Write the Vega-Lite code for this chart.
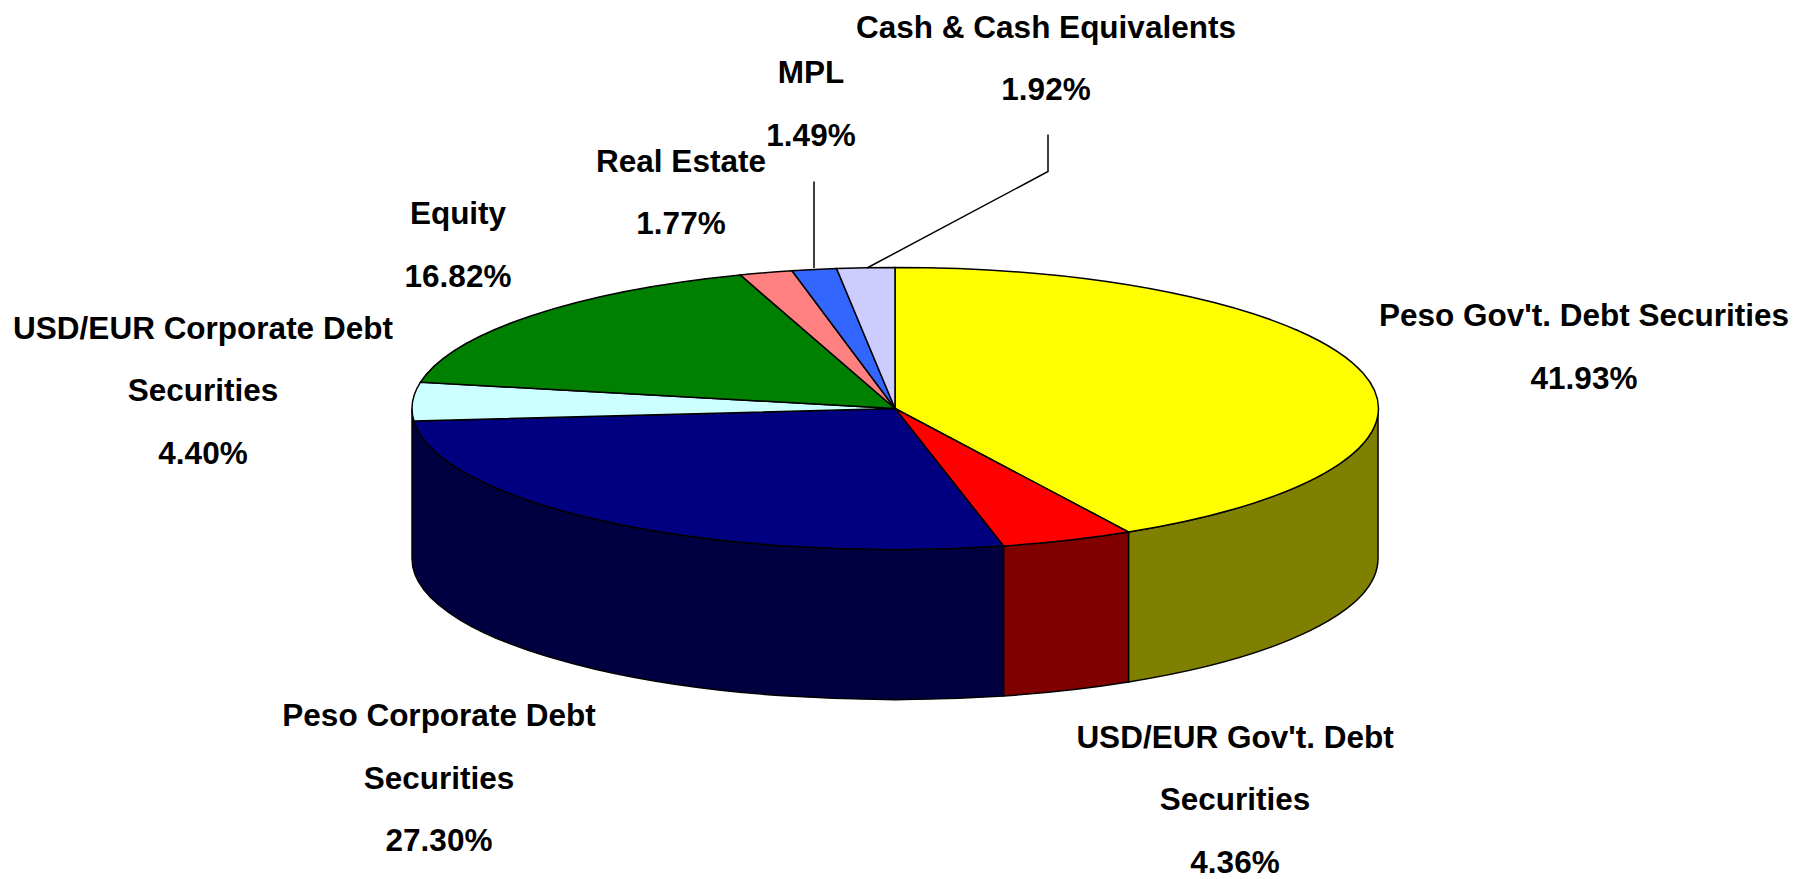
{
"$schema":"https://vega.github.io/schema/vega-lite/v6.json",
"autosize":{"type":"fit","contains":"padding"},
"width":1797,"height":879,"padding":0,"background":"white",
"config":{"view":{"stroke":null}},
"data":{"values":[
{"slice":"Peso Gov't. Debt Securities","share":41.93},
{"slice":"USD/EUR Gov't. Debt\nSecurities","share":4.36},
{"slice":"Peso Corporate Debt\nSecurities","share":27.30},
{"slice":"USD/EUR Corporate Debt\nSecurities","share":4.40},
{"slice":"Equity","share":16.82},
{"slice":"Real Estate","share":1.77},
{"slice":"MPL","share":1.49},
{"slice":"Cash & Cash Equivalents","share":1.92}
]},
"resolve":{"scale":{"shape":"independent","fill":"independent"}},
"layer":[
{"transform":[{"filter":{"field":"slice","oneOf":["Peso Gov't. Debt Securities","USD/EUR Gov't. Debt\nSecurities","Peso Corporate Debt\nSecurities"]}}],
"mark":{"type":"point","filled":true,"opacity":1,"size":4,"stroke":"black","strokeWidth":1.5},
"encoding":{
"shape":{"field":"slice","type":"nominal","legend":null,"scale":{"domain":["Peso Gov't. Debt Securities","USD/EUR Gov't. Debt\nSecurities","Peso Corporate Debt\nSecurities"],"range":[
"M479.5 -30.5A483 141 0 0 1 230 93L230 243A483 141 0 0 0 479.5 119.5Z",
"M230 93A483 141 0 0 1 105 107L105 257A483 141 0 0 0 230 243Z",
"M105 107A483 141 0 0 1 -486.5 -30.5L-486.5 119.5A483 141 0 0 0 105 257Z"]}},
"fill":{"field":"slice","type":"nominal","legend":null,"scale":{"domain":["Peso Gov't. Debt Securities","USD/EUR Gov't. Debt\nSecurities","Peso Corporate Debt\nSecurities"],"range":["#808000","#800000","#000040"]}}
}},
{"mark":{"type":"point","filled":true,"opacity":1,"size":4,"stroke":"black","strokeWidth":1.5},
"encoding":{
"shape":{"field":"slice","type":"nominal","legend":null,"scale":{"domain":["Peso Gov't. Debt Securities","USD/EUR Gov't. Debt\nSecurities","Peso Corporate Debt\nSecurities","USD/EUR Corporate Debt\nSecurities","Equity","Real Estate","MPL","Cash & Cash Equivalents"],"range":[
"M-3.5 -30.5L-3.5 -171.5A483 141 0 0 1 230 93Z",
"M-3.5 -30.5L230 93A483 141 0 0 1 105 107Z",
"M-3.5 -30.5L105 107A483 141 0 0 1 -484.6 -18.02Z",
"M-3.5 -30.5L-484.6 -18.02A483 141 0 0 1 -478 -56.83Z",
"M-3.5 -30.5L-478 -56.83A483 141 0 0 1 -158.23 -164.07Z",
"M-3.5 -30.5L-158.23 -164.07A483 141 0 0 1 -106.5 -168.26Z",
"M-3.5 -30.5L-106.5 -168.26A483 141 0 0 1 -61.91 -170.47Z",
"M-3.5 -30.5L-61.91 -170.47A483 141 0 0 1 -3.5 -171.5Z"]}},
"fill":{"field":"slice","type":"nominal","legend":null,"scale":{"domain":["Peso Gov't. Debt Securities","USD/EUR Gov't. Debt\nSecurities","Peso Corporate Debt\nSecurities","USD/EUR Corporate Debt\nSecurities","Equity","Real Estate","MPL","Cash & Cash Equivalents"],"range":["#FFFF00","#FF0000","#000080","#CCFFFF","#008000","#FF8080","#3366FF","#CCCCFF"]}}
}},
{"transform":[{"filter":{"field":"slice","oneOf":["MPL","Cash & Cash Equivalents"]}}],
"mark":{"type":"point","filled":false,"opacity":1,"size":4,"stroke":"black","strokeWidth":1.5},
"encoding":{
"shape":{"field":"slice","type":"nominal","legend":null,"scale":{"domain":["MPL","Cash & Cash Equivalents"],"range":[
"M-84.5 -257.5L-84.5 -171",
"M149.5 -304.5L149.5 -267.5L-31.5 -171"]}}
}},
{"transform":[{"calculate":"datum.slice + '\\n' + format(datum.share, '.2f') + '%'","as":"labelText"}],
"mark":{"type":"text","font":"Liberation Sans","fontWeight":"bold","fontSize":31.5,"color":"black","align":"center","baseline":"middle","lineBreak":"\n","lineHeight":62.5,
"dx":{"expr":"{'Peso Gov\\'t. Debt Securities':685.5,'USD/EUR Gov\\'t. Debt\\nSecurities':336.5,'Peso Corporate Debt\\nSecurities':-459.5,'USD/EUR Corporate Debt\\nSecurities':-695.5,'Equity':-440.5,'Real Estate':-217.5,'MPL':-87.5,'Cash & Cash Equivalents':147.5}[datum.slice]"},
"dy":{"expr":"{'Peso Gov\\'t. Debt Securities':-122,'USD/EUR Gov\\'t. Debt\\nSecurities':299.5,'Peso Corporate Debt\\nSecurities':278,'USD/EUR Corporate Debt\\nSecurities':-109.5,'Equity':-224,'Real Estate':-276.5,'MPL':-365,'Cash & Cash Equivalents':-410.5}[datum.slice]"}},
"encoding":{"text":{"field":"labelText","type":"nominal"}}}
]
}
